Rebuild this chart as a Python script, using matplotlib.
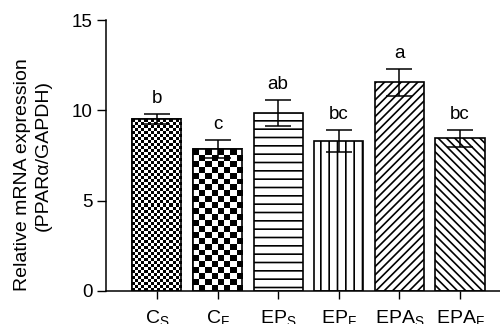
import numpy as np
import matplotlib
matplotlib.use('Agg')
import matplotlib.pyplot as plt

plt.rcParams['font.family'] = ['Liberation Sans', 'DejaVu Sans']
plt.rcParams['hatch.linewidth'] = 1.2

# data
groups = [r'C$_\mathregular{S}$', r'C$_\mathregular{F}$', r'EP$_\mathregular{S}$',
          r'EP$_\mathregular{F}$', r'EPA$_\mathregular{S}$', r'EPA$_\mathregular{F}$']
means = [9.5, 7.85, 9.85, 8.3, 11.55, 8.45]
errs = [0.28, 0.5, 0.72, 0.63, 0.75, 0.47]
letters = ['b', 'c', 'ab', 'bc', 'a', 'bc']

# fill style per bar: checker cell size in px, or hatch
checker_px = [3, 6, None, None, None, None]
hatches = [None, None, '--', '||', '////', '\\\\\\\\']

fig = plt.figure(figsize=(5, 3.24), dpi=100)
ax = fig.add_axes([0.212, 0.102, 0.788, 0.836])

x = np.arange(len(groups))
bars = ax.bar(x, means, width=0.81, color='white', edgecolor='black',
              linewidth=1.2, zorder=2)
for b, h in zip(bars, hatches):
    if h:
        b.set_hatch(h)

ax.errorbar(x, means, yerr=errs, fmt='none', ecolor='black', elinewidth=1.1,
            capsize=9.5, capthick=1.1, zorder=4)

for xi, m, e, t in zip(x, means, errs, letters):
    ax.text(xi, m + e + 0.38, t, ha='center', va='bottom', fontsize=13.5)

ax.set_xlim(-0.84, 5.66)
ax.set_ylim(0, 15)
ax.set_yticks([0, 5, 10, 15])
ax.set_xticks(x)
ax.set_xticklabels(groups, fontsize=14)
ax.tick_params(axis='y', labelsize=13.5, length=6.5, width=1, pad=3)
ax.tick_params(axis='x', length=6, width=1, pad=7)
for s in ['top', 'right']:
    ax.spines[s].set_visible(False)
for s in ['left', 'bottom']:
    ax.spines[s].set_linewidth(1.1)

# y label as two lines placed like the reference
fig.text(27 / 500, 1 - 175 / 324, 'Relative mRNA expression', rotation=90,
         ha='center', va='baseline', fontsize=14, rotation_mode='anchor')
fig.text(48 / 500, 1 - 156 / 324, '(PPARα/GAPDH)', rotation=90,
         ha='center', va='baseline', fontsize=14, rotation_mode='anchor')

# checkerboard fills clipped to the bars
fig.canvas.draw()
renderer = fig.canvas.get_renderer()
for b, c in zip(bars, checker_px):
    if not c:
        continue
    bb = b.get_window_extent(renderer)
    nx = max(1, int(round(bb.width / c)))
    ny = max(1, int(round(bb.height / c)))
    board = (np.add.outer(np.arange(ny), np.arange(nx)) % 2).astype(float)
    x0, y0 = b.get_x(), b.get_y()
    im = ax.imshow(board, cmap='gray', vmin=0, vmax=1, interpolation='nearest',
                   extent=[x0, x0 + b.get_width(), y0, y0 + b.get_height()],
                   aspect='auto', zorder=2.5)
    im.set_clip_path(b)
    edge = plt.Rectangle((x0, y0), b.get_width(), b.get_height(), fill=False,
                         edgecolor='black', linewidth=1.2, zorder=3)
    ax.add_patch(edge)

ax.set_xlim(-0.84, 5.66)
ax.set_ylim(0, 15)

fig.savefig('out.png', dpi=100)
